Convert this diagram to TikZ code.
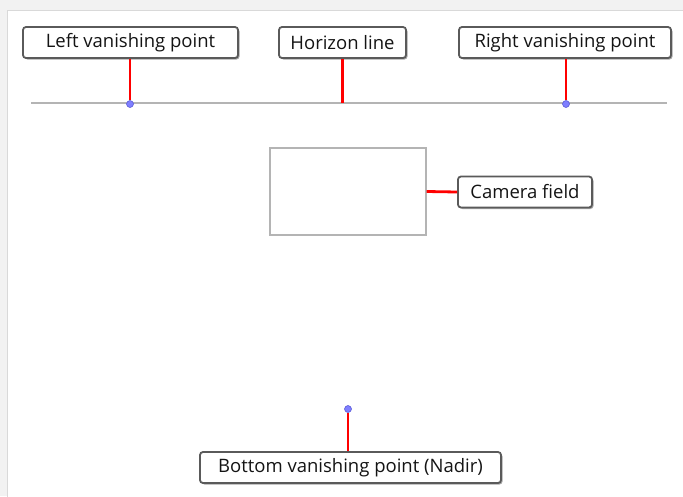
\documentclass[tikz,border=0pt]{standalone}
\usepackage{fontspec}
\setmainfont{Open Sans}
\usetikzlibrary{positioning, shadows, calc}
\definecolor{vpblue}{HTML}{7F7FFF}
\definecolor{vpedge}{HTML}{5050D0}
\definecolor{linegray}{HTML}{B4B4B4}
\definecolor{boxgray}{HTML}{5A5A5A}
\definecolor{pagegray}{HTML}{F2F2F2}
\definecolor{panelgray}{HTML}{D9D9D9}

\begin{document}
\begin{tikzpicture}[
                x=1pt, y=-1pt,
                callout/.style={draw=boxgray, line width=1.8pt, rounded corners=3pt, fill=white, minimum height=31pt, inner xsep=4pt, inner ysep=2pt, font=\fontsize{18.5}{20}\selectfont, text=black!92, drop shadow={shadow xshift=1.5pt, shadow yshift=-1.5pt, fill=gray!70, opacity=1}},
                leader/.style={red, line width=2.8pt},
                horizon/.style={linegray, line width=1.6pt},
                vpdot/.style={circle, fill=vpblue, draw=vpedge, line width=0.5pt, minimum size=7pt, inner sep=0pt},
                camfield/.style={draw=linegray, line width=1.3pt, rectangle, inner sep=0pt}
            ]

            % Rahmen
            \useasboundingbox (0,0) rectangle (683,496);
            \clip (0,0) rectangle (683,496);
            \fill[pagegray] (0,0) rectangle (683,496);
            \filldraw[fill=white, draw=panelgray, line width=1.5pt] (7.5,10.5) rectangle (700,520);

            % Horizont
            \coordinate (hzL) at (31,103);
            \coordinate (hzR) at (667,103);
            \draw[horizon] (hzL) -- (hzR);

            % Knoten
            \node[callout, minimum width=215pt] (leftlbl) at (130.5,42.5) {Left vanishing point};
            \node[callout, minimum width=127pt] (hzlbl) at (342.5,42.5) {Horizon line};
            \node[callout, minimum width=212pt] (rightlbl) at (565,42.5) {Right vanishing point};
            \node[vpdot] (leftvp) at (130,104) {};
            \node[vpdot] (rightvp) at (566,104) {};
            \node[camfield, minimum width=156pt, minimum height=87pt] (cam) at (348,191.5) {};
            \node[callout, minimum width=134pt] (camlbl) at (525,192) {Camera field};
            \node[vpdot] (nadir) at (348,409) {};
            \node[callout, minimum width=301pt] (nadirlbl) at (350.5,467.5) {Bottom vanishing point (Nadir)};

            % Kanten
            \draw[leader] (leftlbl.south -| leftvp) -- (leftvp.north);
            \draw[leader] (hzlbl.south) -- (hzlbl.south |- hzL);
            \draw[leader] (rightlbl.south -| rightvp) -- (rightvp.north);
            \draw[leader] (cam.east) -- (camlbl.west);
            \draw[leader] (nadir.south) -- (nadirlbl.north -| nadir);

        \end{tikzpicture}
\end{document}
